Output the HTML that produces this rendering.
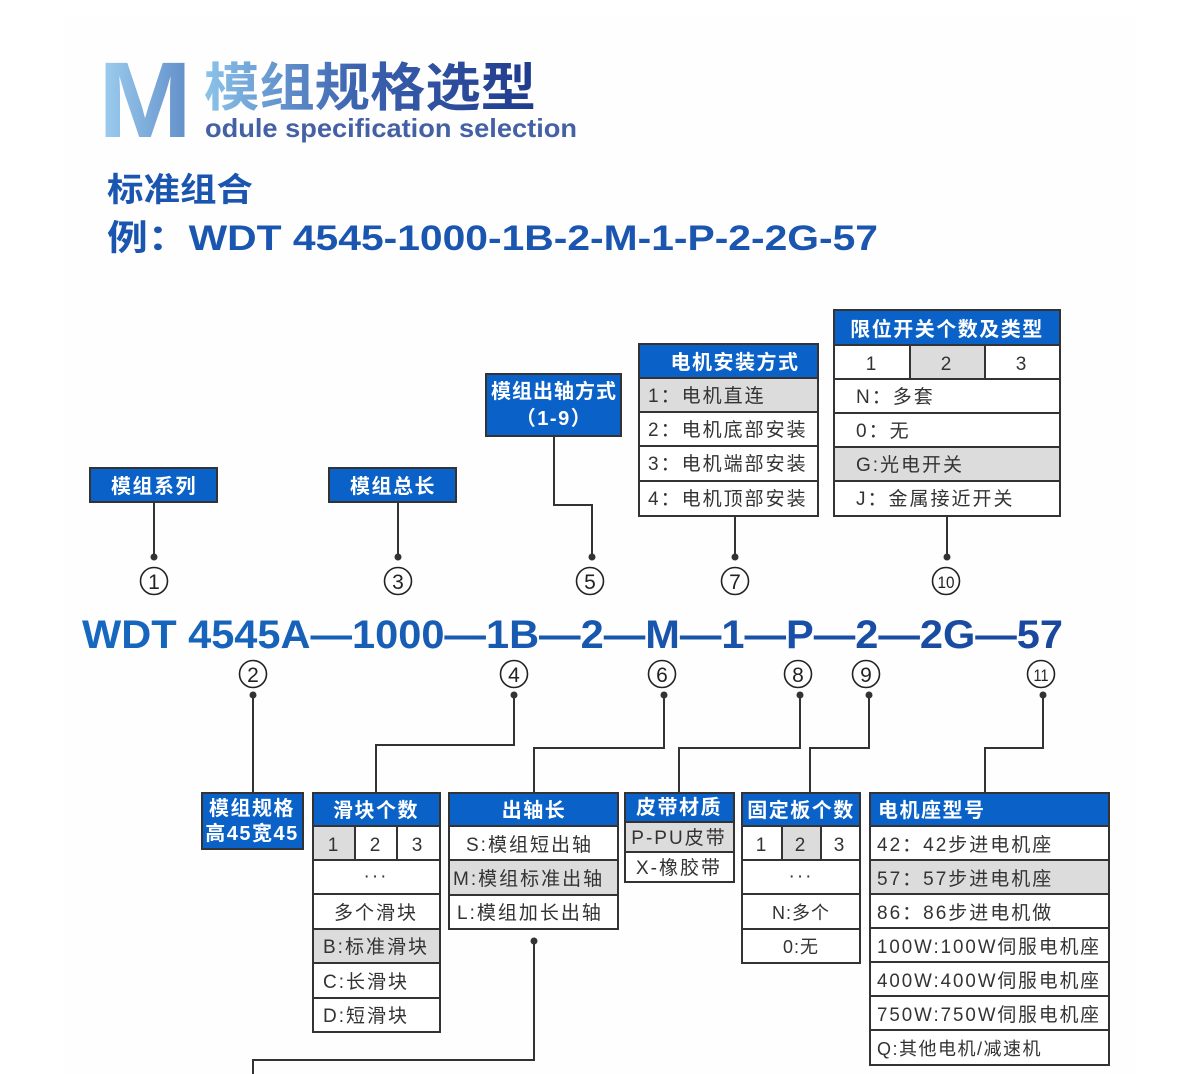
<!DOCTYPE html>
<html><head><meta charset="utf-8"><style>
html,body{margin:0;padding:0;background:#fff;}
svg{display:block;font-family:"Liberation Sans","Noto Sans CJK SC",sans-serif;}
.h{fill:#fff;font-weight:bold;font-size:20px;letter-spacing:1.5px;}
.t{fill:#333;font-size:19px;letter-spacing:2px;}
.c{fill:#222;font-size:21px;}
</style></head><body>
<svg width="1200" height="1074" viewBox="0 0 1200 1074" xmlns="http://www.w3.org/2000/svg">
<defs>
<linearGradient id="gM" x1="0" x2="1" y1="0" y2="0"><stop offset="0" stop-color="#9fd0f0"/><stop offset="1" stop-color="#5f8cc8"/></linearGradient>
<linearGradient id="gT" x1="0" x2="1" y1="0" y2="0"><stop offset="0" stop-color="#8cc4ea"/><stop offset="0.45" stop-color="#3d64b0"/><stop offset="1" stop-color="#1f3a8c"/></linearGradient>
<linearGradient id="gC" x1="0" x2="1" y1="0" y2="0"><stop offset="0" stop-color="#1668c0"/><stop offset="1" stop-color="#1a479e"/></linearGradient>
</defs>
<rect x="65" y="15" width="1072" height="1059" fill="#fefefe"/>
<text x="98" y="137" font-size="108" font-weight="bold" fill="url(#gM)" textLength="94" lengthAdjust="spacingAndGlyphs">M</text>
<text x="204" y="106" font-size="52" font-weight="bold" fill="url(#gT)" textLength="332" lengthAdjust="spacingAndGlyphs">模组规格选型</text>
<text x="205" y="137" font-size="26" font-weight="bold" fill="#4461a6" textLength="372" lengthAdjust="spacingAndGlyphs">odule specification selection</text>
<text x="107" y="201" font-size="33" font-weight="bold" fill="#1a55b0" textLength="146" lengthAdjust="spacingAndGlyphs">标准组合</text>
<text x="107" y="250" font-size="35" font-weight="bold" fill="#1a55b0" textLength="771" lengthAdjust="spacingAndGlyphs">例：WDT 4545-1000-1B-2-M-1-P-2-2G-57</text>

<g stroke="#333" stroke-width="2" fill="none">
<path d="M154 502V557M398 502V557M554 436V505H592V557M735 516V557M947 516V557"/>
<path d="M253 695V793M514 695V745H376V793M664 695V748H534V793M800 695V748H679V793M869 695V748H810V793M1043 695V748H985V793M534 941V1060H253V1074"/>
</g>
<g fill="#333">
<circle cx="154" cy="557" r="3.5"/><circle cx="398" cy="557" r="3.5"/><circle cx="592" cy="557" r="3.5"/><circle cx="735" cy="557" r="3.5"/><circle cx="947" cy="557" r="3.5"/>
<circle cx="253" cy="695" r="3.5"/><circle cx="514" cy="695" r="3.5"/><circle cx="664" cy="695" r="3.5"/><circle cx="800" cy="695" r="3.5"/><circle cx="869" cy="695" r="3.5"/><circle cx="1043" cy="695" r="3.5"/><circle cx="534" cy="941" r="3.5"/>
</g>
<g fill="none" stroke="#222" stroke-width="1.6">
<circle cx="154" cy="581" r="13.5"/><circle cx="398" cy="581" r="13.5"/><circle cx="590" cy="581" r="13.5"/><circle cx="735" cy="581" r="13.5"/><circle cx="946" cy="581" r="13.5"/>
<circle cx="253" cy="674" r="13.5"/><circle cx="514" cy="674" r="13.5"/><circle cx="662" cy="674" r="13.5"/><circle cx="798" cy="674" r="13.5"/><circle cx="866" cy="674" r="13.5"/><circle cx="1041" cy="674" r="13.5"/>
</g>
<g class="c" text-anchor="middle">
<text x="154" y="589">1</text><text x="398" y="589">3</text><text x="590" y="589">5</text><text x="735" y="589">7</text><text x="946" y="588" font-size="17" textLength="17" lengthAdjust="spacingAndGlyphs">10</text>
<text x="253" y="682">2</text><text x="514" y="682">4</text><text x="662" y="682">6</text><text x="798" y="682">8</text><text x="866" y="682">9</text><text x="1041" y="681" font-size="17" textLength="15" lengthAdjust="spacingAndGlyphs">11</text>
</g>
<text x="82" y="648" font-size="40" font-weight="bold" fill="url(#gC)" textLength="981" lengthAdjust="spacingAndGlyphs">WDT 4545A—1000—1B—2—M—1—P—2—2G—57</text>

<g stroke="#333" stroke-width="2">
<rect x="90" y="468" width="127" height="34" fill="#0a62c8"/>
<rect x="329" y="468" width="127" height="34" fill="#0a62c8"/>
<rect x="486" y="374" width="135" height="62" fill="#0a62c8"/>
</g>
<g class="h" text-anchor="middle">
<text x="154" y="493">模组系列</text>
<text x="393" y="493">模组总长</text>
<text x="554" y="398" letter-spacing="1">模组出轴方式</text>
<text x="554" y="425">（1-9）</text>
</g>

<g stroke="#333" stroke-width="2">
<rect x="639" y="344" width="179" height="34" fill="#0a62c8"/>
<rect x="639" y="378" width="179" height="34" fill="#dcdcdc"/>
<rect x="639" y="412" width="179" height="34" fill="#fff"/>
<rect x="639" y="446" width="179" height="35" fill="#fff"/>
<rect x="639" y="481" width="179" height="35" fill="#fff"/>
</g>
<text class="h" x="735" y="369" text-anchor="middle">电机安装方式</text>
<g class="t"><text x="648" y="402">1：电机直连</text><text x="648" y="436">2：电机底部安装</text><text x="648" y="470">3：电机端部安装</text><text x="648" y="505">4：电机顶部安装</text></g>

<g stroke="#333" stroke-width="2">
<rect x="834" y="310" width="226" height="35" fill="#0a62c8"/>
<rect x="834" y="345" width="76" height="34" fill="#fff"/>
<rect x="910" y="345" width="75" height="34" fill="#dcdcdc"/>
<rect x="985" y="345" width="75" height="34" fill="#fff"/>
<rect x="834" y="379" width="226" height="34" fill="#fff"/>
<rect x="834" y="413" width="226" height="34" fill="#fff"/>
<rect x="834" y="447" width="226" height="34" fill="#dcdcdc"/>
<rect x="834" y="481" width="226" height="35" fill="#fff"/>
</g>
<text class="h" x="947" y="336" text-anchor="middle" letter-spacing="1">限位开关个数及类型</text>
<g class="t" text-anchor="middle"><text x="872" y="370">1</text><text x="947" y="370">2</text><text x="1022" y="370">3</text></g>
<g class="t"><text x="856" y="403">N：多套</text><text x="856" y="437">0：无</text><text x="856" y="471">G:光电开关</text><text x="856" y="505">J：金属接近开关</text></g>

<rect x="202" y="793" width="101" height="56" fill="#0a62c8" stroke="#333" stroke-width="2"/>
<g class="h" text-anchor="middle" font-size="19" letter-spacing="0.5"><text x="252" y="815">模组规格</text><text x="252" y="840">高45宽45</text></g>

<g stroke="#333" stroke-width="2">
<rect x="313" y="793" width="127" height="33" fill="#0a62c8"/>
<rect x="313" y="826" width="42" height="34" fill="#dcdcdc"/>
<rect x="355" y="826" width="42" height="34" fill="#fff"/>
<rect x="397" y="826" width="43" height="34" fill="#fff"/>
<rect x="313" y="860" width="127" height="34" fill="#fff"/>
<rect x="313" y="894" width="127" height="35" fill="#fff"/>
<rect x="313" y="929" width="127" height="34" fill="#dcdcdc"/>
<rect x="313" y="963" width="127" height="35" fill="#fff"/>
<rect x="313" y="998" width="127" height="34" fill="#fff"/>
</g>
<text class="h" x="376" y="817" text-anchor="middle">滑块个数</text>
<g class="t" text-anchor="middle"><text x="334" y="851">1</text><text x="376" y="851">2</text><text x="418" y="851">3</text><text x="376" y="882">···</text><text x="376" y="919">多个滑块</text></g>
<g class="t" letter-spacing="1"><text x="323" y="953">B:标准滑块</text><text x="323" y="988">C:长滑块</text><text x="323" y="1022">D:短滑块</text></g>

<g stroke="#333" stroke-width="2">
<rect x="449" y="793" width="169" height="33" fill="#0a62c8"/>
<rect x="449" y="826" width="169" height="34" fill="#fff"/>
<rect x="449" y="860" width="169" height="35" fill="#dcdcdc"/>
<rect x="449" y="895" width="169" height="34" fill="#fff"/>
</g>
<text class="h" x="534" y="817" text-anchor="middle">出轴长</text>
<g class="t" letter-spacing="1.5"><text x="466" y="851">S:模组短出轴</text><text x="453" y="885">M:模组标准出轴</text><text x="457" y="919">L:模组加长出轴</text></g>

<g stroke="#333" stroke-width="2">
<rect x="625" y="793" width="109" height="29" fill="#0a62c8"/>
<rect x="625" y="822" width="109" height="30" fill="#dcdcdc"/>
<rect x="625" y="852" width="109" height="30" fill="#fff"/>
</g>
<text class="h" x="679" y="814" text-anchor="middle" font-size="18">皮带材质</text>
<g class="t" text-anchor="middle" font-size="18" letter-spacing="1"><text x="679" y="844">P-PU皮带</text><text x="679" y="874">X-橡胶带</text></g>

<g stroke="#333" stroke-width="2">
<rect x="742" y="793" width="118" height="33" fill="#0a62c8"/>
<rect x="742" y="826" width="40" height="34" fill="#fff"/>
<rect x="782" y="826" width="39" height="34" fill="#dcdcdc"/>
<rect x="821" y="826" width="39" height="34" fill="#fff"/>
<rect x="742" y="860" width="118" height="34" fill="#fff"/>
<rect x="742" y="894" width="118" height="35" fill="#fff"/>
<rect x="742" y="929" width="118" height="34" fill="#fff"/>
</g>
<text class="h" x="801" y="817" text-anchor="middle" letter-spacing="0.5">固定板个数</text>
<g class="t" text-anchor="middle"><text x="762" y="851">1</text><text x="801" y="851">2</text><text x="840" y="851">3</text><text x="801" y="882">···</text><text x="801" y="919" font-size="18" letter-spacing="1">N:多个</text><text x="801" y="953" font-size="18" letter-spacing="1">0:无</text></g>

<g stroke="#333" stroke-width="2">
<rect x="870" y="793" width="239" height="33" fill="#0a62c8"/>
<rect x="870" y="826" width="239" height="34" fill="#fff"/>
<rect x="870" y="860" width="239" height="34" fill="#dcdcdc"/>
<rect x="870" y="894" width="239" height="34" fill="#fff"/>
<rect x="870" y="928" width="239" height="34" fill="#fff"/>
<rect x="870" y="962" width="239" height="34" fill="#fff"/>
<rect x="870" y="996" width="239" height="34" fill="#fff"/>
<rect x="870" y="1030" width="239" height="35" fill="#fff"/>
</g>
<text class="h" x="878" y="817">电机座型号</text>
<g class="t"><text x="877" y="851">42：42步进电机座</text><text x="877" y="885">57：57步进电机座</text><text x="877" y="919">86：86步进电机做</text><text x="877" y="953" textLength="224" lengthAdjust="spacingAndGlyphs">100W:100W伺服电机座</text><text x="877" y="987" textLength="224" lengthAdjust="spacingAndGlyphs">400W:400W伺服电机座</text><text x="877" y="1021" textLength="224" lengthAdjust="spacingAndGlyphs">750W:750W伺服电机座</text><text x="877" y="1055" font-size="18" letter-spacing="1.5">Q:其他电机/减速机</text></g>
</svg>
</body></html>
